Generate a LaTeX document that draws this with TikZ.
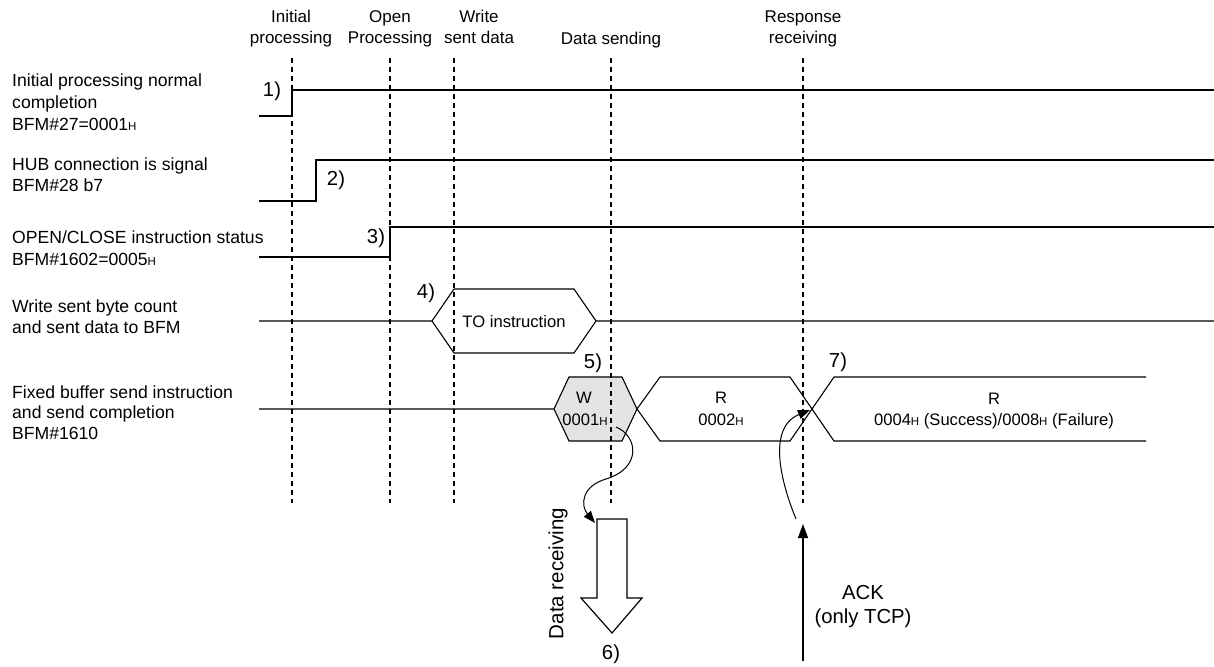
\documentclass[tikz,border=0pt]{standalone}
\usepackage{fontspec}
\setmainfont{Liberation Sans}
\usetikzlibrary{arrows.meta}
\newcommand\hsub{{\fontsize{11.5}{11}\selectfont H}}
\begin{document}
\begin{tikzpicture}[x=1pt,y=-1pt,
  sig/.style={line width=1.1pt, line join=miter},
  guide/.style={line width=1.6pt, dash pattern=on 5pt off 4pt},
  lbl/.style={font=\fontsize{17.6}{21.5}\selectfont, inner sep=0pt, anchor=base west},
  txt/.style={font=\fontsize{17}{21.5}\selectfont, inner sep=0pt, anchor=base},
  hex/.style={font=\fontsize{16.6}{21.5}\selectfont, inner sep=0pt, anchor=base},
  big/.style={font=\fontsize{20.3}{24}\selectfont, inner sep=0pt, anchor=base},
  tip/.style={-{Triangle[length=12pt,width=9pt]}},
  bigtip/.style={-{Triangle[length=14pt,width=10pt]}}
]
\useasboundingbox (0,0) rectangle (1214,666);

% W hexagon fill (under the guides)
\fill[gray!22] (554,409) -- (569,377) -- (622,377) -- (637,409) -- (622,441) -- (569,441) -- cycle;

% guide lines
\foreach \gx/\gn in {292/g1,390/g2,454/g3,611/g4,803/g5}{
  \coordinate (\gn t) at (\gx,58);
  \coordinate (\gn b) at (\gx,503);
  \draw[guide] (\gn t) -- (\gn b);
}

% header texts
\node[txt] (h1a) at (291,22.5) {Initial};
\node[txt] (h1b) at (291,43.5) {processing};
\node[txt] (h2a) at (390,22.5) {Open};
\node[txt] (h2b) at (390,43.5) {Processing};
\node[txt] (h3a) at (479,22.5) {Write};
\node[txt] (h3b) at (479,43.5) {sent data};
\node[txt] (h4) at (611,45) {Data sending};
\node[txt] (h5a) at (803,22.5) {Response};
\node[txt] (h5b) at (803,43.5) {receiving};

% left labels
\node[lbl] (l1a) at (12,87) {Initial processing normal};
\node[lbl] (l1b) at (12,109) {completion};
\node[lbl] (l1c) at (12,131) {BFM\#27=0001\hsub};
\node[lbl] (l2a) at (12,170) {HUB connection is signal};
\node[lbl] (l2b) at (12,191) {BFM\#28 b7};
\node[lbl] (l3a) at (12,243) {OPEN/CLOSE instruction status};
\node[lbl] (l3b) at (12,265) {BFM\#1602=0005\hsub};
\node[lbl] (l4a) at (12,312.5) {Write sent byte count};
\node[lbl] (l4b) at (12,333.5) {and sent data to BFM};
\node[lbl] (l5a) at (12,398) {Fixed buffer send instruction};
\node[lbl] (l5b) at (12,418.5) {and send completion};
\node[lbl] (l5c) at (12,439) {BFM\#1610};

% signal 1
\draw[sig] (259,116) -- (292,116) -- (292,90) -- (1214,90);
% signal 2
\draw[sig] (259,201) -- (316,201) -- (316,160) -- (1214,160);
% signal 3
\draw[sig] (259,257) -- (390,257) -- (390,227) -- (1214,227);
% signal 4
\draw[sig] (259,321) -- (432,321) -- (454,289) -- (574,289) -- (596,321) -- (1214,321);
\draw[sig] (432,321) -- (454,353) -- (574,353) -- (596,321);
% signal 5
\draw[sig] (259,409) -- (554,409) -- (569,377) -- (622,377) -- (637,409) -- (622,441) -- (569,441) -- (554,409);
\draw[sig] (637,409) -- (660,377) -- (790,377) -- (834,441) -- (1146,441);
\draw[sig] (637,409) -- (660,441) -- (790,441) -- (834,377) -- (1146,377);
\coordinate (cross) at (810,410);

% hexagon texts
\node[hex] (to) at (514,327) {TO instruction};
\node[hex] (wa) at (584,403.5) {W};
\node[hex] (wb) at (585,425) {0001\hsub};
\node[hex] (ra) at (721,403.5) {R};
\node[hex] (rb) at (721,425) {0002\hsub};
\node[hex] (sa) at (994,404.5) {R};
\node[hex] (sb) at (994,425.5) {0004\hsub{} (Success)/0008\hsub{} (Failure)};

% step numbers
\node[big] (n1) at (272,96) {1)};
\node[big] (n2) at (336,185) {2)};
\node[big] (n3) at (376,243.5) {3)};
\node[big] (n4) at (426,298) {4)};
\node[big] (n5) at (593,368) {5)};
\node[big] (n6) at (611,659) {6)};
\node[big] (n7) at (838,367.5) {7)};

% data receiving
\coordinate (w0) at (616,427);
\coordinate (rx) at (595,523);
\draw[line width=1pt, tip] (w0) .. controls (638,436) and (642,468) .. (606,479) .. controls (582,486) and (580,505) .. (rx);
\draw[line width=1.2pt, line join=miter] (597,519) -- (627,519) -- (627,598) -- (642,598) -- (612,633) -- (581,598) -- (597,598) -- cycle;
\node[font=\fontsize{20.5}{24}\selectfont, inner sep=0pt, rotate=90] (dr) at (558,573.5) {Data receiving};

% ACK
\coordinate (ackb) at (803,661);
\coordinate (ackt) at (803,524);
\draw[line width=1.2pt, bigtip] (ackb) -- (ackt);
\node[big] (ack1) at (863,599) {ACK};
\node[big] (ack2) at (863,623) {(only TCP)};
\coordinate (c0) at (796,519);
\draw[line width=1pt, tip] (c0) .. controls (782,485) and (766,428) .. (cross);
\end{tikzpicture}
\end{document}
